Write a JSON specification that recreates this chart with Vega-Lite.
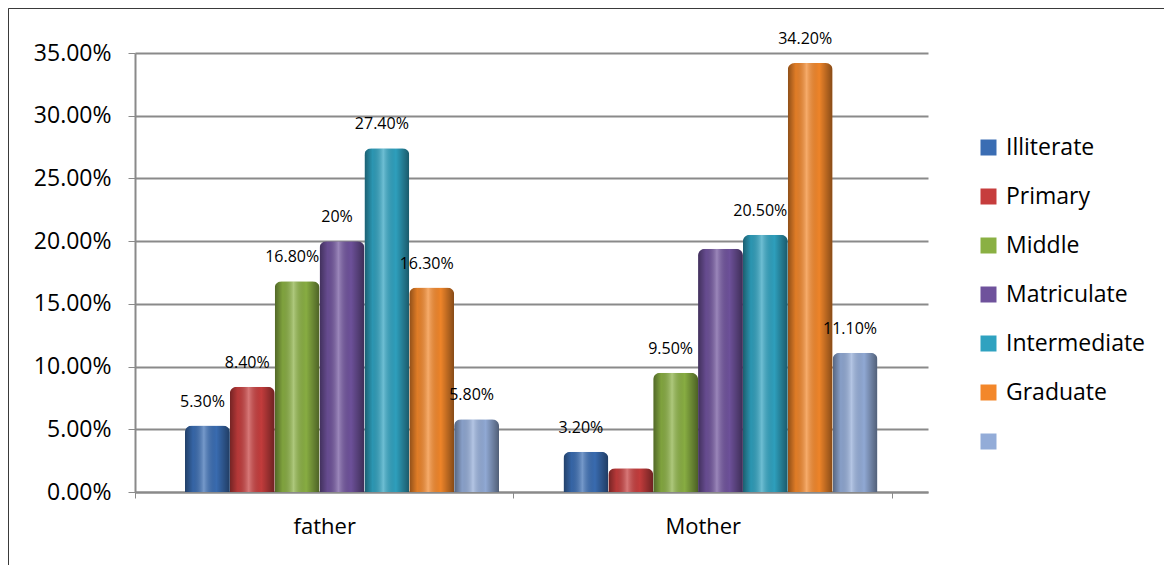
{
  "$schema": "https://vega.github.io/schema/vega-lite/v6.json",
  "autosize": "none",
  "padding": {"left": 8, "top": 8, "right": 0, "bottom": 0},
  "width": 1156,
  "height": 557,
  "background": "white",
  "data": {
    "values": [
      {"parent": "father", "level": "Illiterate", "share": 0.053, "label": "5.30%"},
      {"parent": "father", "level": "Primary", "share": 0.084, "label": "8.40%"},
      {"parent": "father", "level": "Middle", "share": 0.168, "label": "16.80%"},
      {"parent": "father", "level": "Matriculate", "share": 0.2, "label": "20%"},
      {"parent": "father", "level": "Intermediate", "share": 0.274, "label": "27.40%"},
      {"parent": "father", "level": "Graduate", "share": 0.163, "label": "16.30%"},
      {"parent": "father", "level": " ", "share": 0.058, "label": "5.80%"},
      {"parent": "Mother", "level": "Illiterate", "share": 0.032, "label": "3.20%"},
      {"parent": "Mother", "level": "Primary", "share": 0.019, "label": ""},
      {"parent": "Mother", "level": "Middle", "share": 0.095, "label": "9.50%"},
      {"parent": "Mother", "level": "Matriculate", "share": 0.194, "label": ""},
      {"parent": "Mother", "level": "Intermediate", "share": 0.205, "label": "20.50%"},
      {"parent": "Mother", "level": "Graduate", "share": 0.342, "label": "34.20%"},
      {"parent": "Mother", "level": " ", "share": 0.111, "label": "11.10%"}
    ]
  },
  "encoding": {
    "x": {
      "field": "parent",
      "type": "nominal",
      "sort": ["father", "Mother"],
      "scale": {"range": [127, 920], "paddingInner": 0, "paddingOuter": 0.0476, "align": 0},
      "axis": {
        "title": null,
        "orient": "bottom",
        "offset": -73,
        "tickBand": "extent",
        "labelAngle": 0,
        "labelFont": "Open Sans",
        "labelFontSize": 22,
        "labelColor": "#000000",
        "labelPadding": 18,
        "tickSize": 6,
        "tickColor": "#8a8a8a",
        "domainColor": "#8a8a8a",
        "domainWidth": 2,
        "grid": false
      }
    },
    "xOffset": {
      "field": "level",
      "type": "nominal",
      "sort": ["Illiterate", "Primary", "Middle", "Matriculate", "Intermediate", "Graduate", " "],
      "scale": {"range": [50, 364], "paddingInner": 0, "paddingOuter": 0}
    },
    "y": {
      "field": "share",
      "type": "quantitative",
      "scale": {"domain": [0, 0.35], "range": [484, 45], "nice": false},
      "axis": {
        "title": null,
        "orient": "left",
        "offset": -127,
        "format": ".2%",
        "values": [0, 0.05, 0.1, 0.15, 0.2, 0.25, 0.3, 0.35],
        "labelFont": "Open Sans",
        "labelFontSize": 23,
        "labelColor": "#000000",
        "labelPadding": 17,
        "tickSize": 7,
        "tickColor": "#8a8a8a",
        "domainColor": "#8a8a8a",
        "domainWidth": 2,
        "grid": true,
        "gridColor": "#8a8a8a",
        "gridWidth": 2
      }
    }
  },
  "layer": [
    {
      "mark": {"type": "bar", "cornerRadiusTopLeft": 7, "cornerRadiusTopRight": 7},
      "encoding": {
        "color": {
          "field": "level",
          "type": "nominal",
          "sort": ["Illiterate", "Primary", "Middle", "Matriculate", "Intermediate", "Graduate", " "],
          "scale": {
            "domain": ["Illiterate", "Primary", "Middle", "Matriculate", "Intermediate", "Graduate", " "],
            "range": ["#3a6db3", "#c63d3d", "#8ab043", "#6f529c", "#2fa2c0", "#f3872a", "#93acd8"]
          },
          "legend": {
            "title": null,
            "orient": "none",
            "legendX": 969,
            "legendY": 128,
            "padding": 0,
            "symbolType": "square",
            "symbolSize": 256,
            "symbolStrokeWidth": 0,
            "labelFont": "Open Sans",
            "labelFontSize": 23,
            "labelColor": "#000000",
            "labelOffset": 6,
            "rowPadding": 25
          }
        }
      }
    },
    {
      "mark": {
        "type": "bar",
        "cornerRadiusTopLeft": 7,
        "cornerRadiusTopRight": 7,
        "fill": {
          "gradient": "linear",
          "x1": 0, "y1": 0, "x2": 1, "y2": 0,
          "stops": [
            {"offset": 0, "color": "rgba(0,0,0,0.42)"},
            {"offset": 0.18, "color": "rgba(0,0,0,0.08)"},
            {"offset": 0.42, "color": "rgba(255,255,255,0.3)"},
            {"offset": 0.7, "color": "rgba(0,0,0,0.02)"},
            {"offset": 1, "color": "rgba(0,0,0,0.45)"}
          ]
        }
      },
      "encoding": {}
    },
    {
      "mark": {"type": "text", "font": "Open Sans", "fontSize": 16, "color": "#000000", "dy": -24, "dx": -5, "baseline": "middle"},
      "encoding": {"text": {"field": "label"}}
    }
  ],
  "config": {
    "view": {"stroke": "#3a3a3a", "strokeWidth": 1, "strokeDash": [1156, 1713, 557]},
    "axis": {"labelFont": "Open Sans"}
  }
}
